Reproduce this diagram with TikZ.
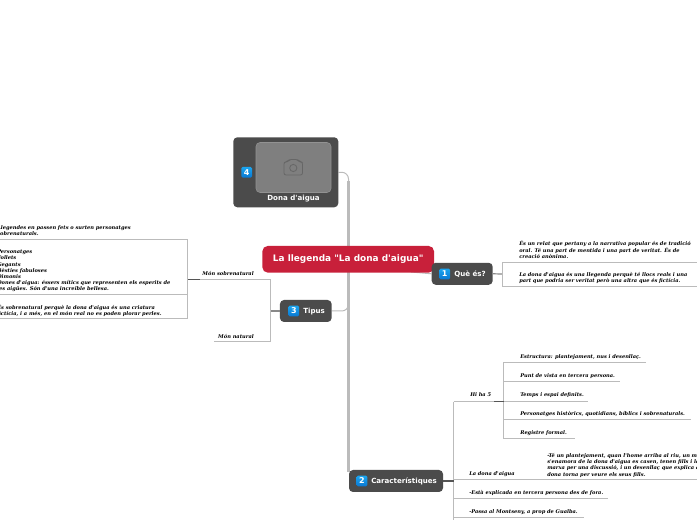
\documentclass[tikz,border=0pt]{standalone}
\usepackage{fontspec}
\usepackage{xcolor}
\usetikzlibrary{positioning, calc, backgrounds}
\newfontfamily\mapsans{DejaVu Sans}
\newfontfamily\mapserif{DejaVu Serif}
\definecolor{mRed}{HTML}{C8203A}
\definecolor{mDark}{HTML}{4B4B4B}
\definecolor{mPhoto}{HTML}{7F7F7F}
\definecolor{mLine}{HTML}{BBBBBB}
\definecolor{mStub}{HTML}{555555}
\definecolor{mBlueA}{HTML}{1AA5F0}
\definecolor{mBlueB}{HTML}{0A78D2}

\begin{document}
\begin{tikzpicture}[
  x=0.75pt, y=-0.75pt,
  topic/.style={draw=none, fill=mDark, rounded corners=3pt, inner sep=0pt,
                text=white, font=\mapsans\bfseries\fontsize{6}{7}\selectfont},
  central/.style={fill=mRed, rounded corners=4pt, inner sep=0pt, text=white,
                  font=\mapsans\bfseries\fontsize{6.7}{8}\selectfont},
  badge/.style={rounded corners=1pt, top color=mBlueA, bottom color=mBlueB,
                minimum width=8pt, minimum height=8pt, inner sep=0pt, text=white,
                font=\mapsans\bfseries\fontsize{6}{7}\selectfont},
  toplabel/.style={text=white, inner sep=0pt, anchor=west,
                   font=\mapsans\bfseries\fontsize{5.3}{7}\selectfont},
  leaf/.style={anchor=west, align=left, inner sep=0pt, text=black,
               font=\mapserif\bfseries\itshape\fontsize{3.82}{4.65}\selectfont},
  trunk/.style={draw=mLine, line width=1.9pt},
  conn/.style={draw=mLine, line width=0.75pt},
  stub/.style={draw=mStub, line width=0.9pt},
  softstub/.style={draw=mStub!70, line width=0.9pt},
]
  \useasboundingbox (0,0) rectangle (697,520);
  \clip (0,0) rectangle (697,520);

  % TOPICS
  \node[topic, minimum width=78.75pt, minimum height=52.5pt] (photo) at (285.8,172.3) {};
  \node[central, minimum width=128.75pt, minimum height=20pt] (root) at (348.2,259.3) {La llegenda "La dona d'aigua"};
  \node[topic, minimum width=45.75pt, minimum height=16.5pt] (ques) at (462.2,273.8) {};
  \node[topic, minimum width=38.75pt, minimum height=16.5pt] (tipus) at (305.8,311) {};
  \node[topic, minimum width=70.5pt, minimum height=16.5pt] (carac) at (396,481) {};

  % trunk, behind the topics
  \coordinate (trunktop) at (348.5,181);
  \coordinate (trunkend) at (348.5,472);
  \coordinate (tipusjoin) at (348.5,303);
  \coordinate (photoelbow) at (348.5,172.3);
  \coordinate (tipuselbow) at (348.5,311);
  \coordinate (rootout) at (411,272);
  \begin{pgfonlayer}{background}
    \draw[trunk] (trunktop) -- (trunkend);
    \draw[conn, rounded corners=5pt] (photo.east) -- (photoelbow) -- (trunktop);
    \draw[conn, rounded corners=5pt] (tipus.east) -- (tipuselbow) -- (tipusjoin);
    \draw[conn] (rootout) -- (ques.west);
  \end{pgfonlayer}

  % DONA D'AIGUA
  \node[fill=mPhoto, draw=mPhoto!85!white, rounded corners=3pt, minimum width=56.25pt, minimum height=37.5pt, inner sep=0pt] (image) at (293.5,167.5) {};
  \draw[mDark!85, line width=0.6pt, rounded corners=1.5pt] (284,162) -- (287.5,162) -- (289,159.5) -- (298,159.5) -- (299.5,162) -- (302.5,162) -- (302.5,175) -- (284,175) -- cycle;
  \node[draw=mDark!85, line width=0.6pt, circle, minimum size=5.4pt, inner sep=0pt] (lens) at (293.3,168) {};
  \node[badge] (b4) at (246.7,172.3) {4};
  \node[toplabel, anchor=center] (photolabel) at (293.5,198.5) {Dona d'aigua};

  % QUE ES
  \node[badge] (b1) at (444.7,274) {1};
  \node[toplabel] (queslabel) at (454,274.3) {Què és?};
  \coordinate (qbox) at (502,274);
  \coordinate (qtop) at (502,262.5);
  \coordinate (qbot) at (502,286.5);
  \coordinate (qtopend) at (697,262.5);
  \coordinate (qbotend) at (697,286.5);
  \draw[softstub] (ques.east) -- (qbox);
  \draw[conn] (qtopend) -- (qtop) -- (qbot) -- (qbotend);
  \node[leaf] (q1) at (519,249.7) {És un relat que pertany a la narrativa popular és de tradició\\oral. Té una part de mentida i una part de veritat. És de\\creació anònima.};
  \node[leaf] (q2) at (519,278) {La dona d'aigua és una llegenda perquè té llocs reals i una\\part que podria ser veritat però una altra que és fictícia.};

  % TIPUS
  \node[badge] (b3) at (293.8,311) {3};
  \node[toplabel] (tipuslabel) at (303,311.3) {Tipus};
  \coordinate (tjoin) at (270.7,311);
  \coordinate (sobre) at (270.7,279.5);
  \coordinate (natur) at (270.7,341.7);
  \coordinate (naturend) at (214,341.7);
  \coordinate (sobreend) at (187.5,279.5);
  \coordinate (sobrejoin) at (200,279.5);
  \draw[conn] (sobreend) -- (sobre) -- (natur) -- (naturend);
  \draw[softstub] (tipus.west) -- (tjoin);
  \draw[stub] (sobreend) -- (sobrejoin);
  \node[leaf, anchor=east] (monsobre) at (254,274) {Món sobrenatural};
  \node[leaf, anchor=east] (monnatur) at (254,337) {Món natural};

  % box on the left, cut by the page edge
  \coordinate (bxa) at (0,239.3);
  \coordinate (bxb) at (187.5,239.3);
  \coordinate (bxc) at (187.5,319);
  \coordinate (bxd) at (0,319);
  \coordinate (bxe) at (0,294.3);
  \coordinate (bxf) at (187.5,294.3);
  \draw[conn] (bxa) -- (bxb) -- (bxc) -- (bxd);
  \draw[conn] (bxe) -- (bxf);
  \node[leaf] (s0) at (-3,231) {Llegendes en passen fets o surten personatges\\sobrenaturals.};
  \node[leaf] (s1) at (-3,271) {Personatges\\Follets\\Gegants\\Bèsties fabuloses\\Dimonis\\Dones d'aigua: éssers mítics que representen els esperits de\\les aigües. Són d'una increïble bellesa.};
  \node[leaf] (s2) at (-3,311) {És sobrenatural perquè la dona d'aigua és una criatura\\fictícia, i a més, en el món real no es poden plorar perles.};

  % CARACTERISTIQUES
  \node[badge] (b2) at (362,481) {2};
  \node[toplabel] (caraclabel) at (371,481.3) {Característiques};
  \coordinate (cjoin) at (453.5,481);
  \coordinate (ctop) at (453.5,401.7);
  \coordinate (cbot) at (453.5,520);
  \coordinate (cend1) at (697,480);
  \coordinate (cend2) at (608,499);
  \coordinate (cend3) at (584,518);
  \coordinate (cj1) at (453.5,480);
  \coordinate (cj2) at (453.5,499);
  \coordinate (cj3) at (453.5,518);
  \draw[conn] (cbot) -- (ctop);
  \draw[conn] (cj1) -- (cend1);
  \draw[conn] (cj2) -- (cend2);
  \draw[conn] (cj3) -- (cend3);
  \draw[stub] (carac.east) -- (cjoin);
  \node[leaf] (c1) at (469,474) {La dona d'aigua};
  \node[leaf] (c2) at (547,465.3) {-Té un plantejament, quan l'home arriba al riu, un mo\\s'enamora de la dona d'aigua es casen, tenen fills i la\\marxa per una discussió, i un desenllaç que explica qu\\dona torna per veure els seus fills.};
  \node[leaf] (c3) at (469,493) {-Està explicada en tercera persona des de fora.};
  \node[leaf] (c4) at (469,512) {-Passa al Montseny, a prop de Gualba.};

  % HI HA 5
  \coordinate (hjoin) at (503.5,401.7);
  \coordinate (hstub) at (494,401.7);
  \coordinate (htop) at (503.5,363);
  \coordinate (hbot) at (503.5,439);
  \coordinate (hend1) at (646,363);
  \coordinate (hj2) at (503.5,382);
  \coordinate (hend2) at (620,382);
  \coordinate (hend3) at (588,401.7);
  \coordinate (hj4) at (503.5,420);
  \coordinate (hend4) at (691,420);
  \coordinate (hend5) at (575,439);
  \draw[conn] (ctop) -- (hjoin);
  \draw[conn] (hend1) -- (htop) -- (hbot) -- (hend5);
  \draw[conn] (hj2) -- (hend2);
  \draw[conn] (hjoin) -- (hend3);
  \draw[conn] (hj4) -- (hend4);
  \draw[stub] (hstub) -- (hjoin);
  \node[leaf] (h0) at (470,395) {Hi ha 5};
  \node[leaf] (h1) at (520,357) {Estructura: plantejament, nus i desenllaç.};
  \node[leaf] (h2) at (520,376) {Punt de vista en tercera persona.};
  \node[leaf] (h3) at (520,395) {Temps i espai definits.};
  \node[leaf] (h4) at (520,414) {Personatges històrics, quotidians, bíblics i sobrenaturals.};
  \node[leaf] (h5) at (520,433) {Registre formal.};
\end{tikzpicture}
\end{document}
